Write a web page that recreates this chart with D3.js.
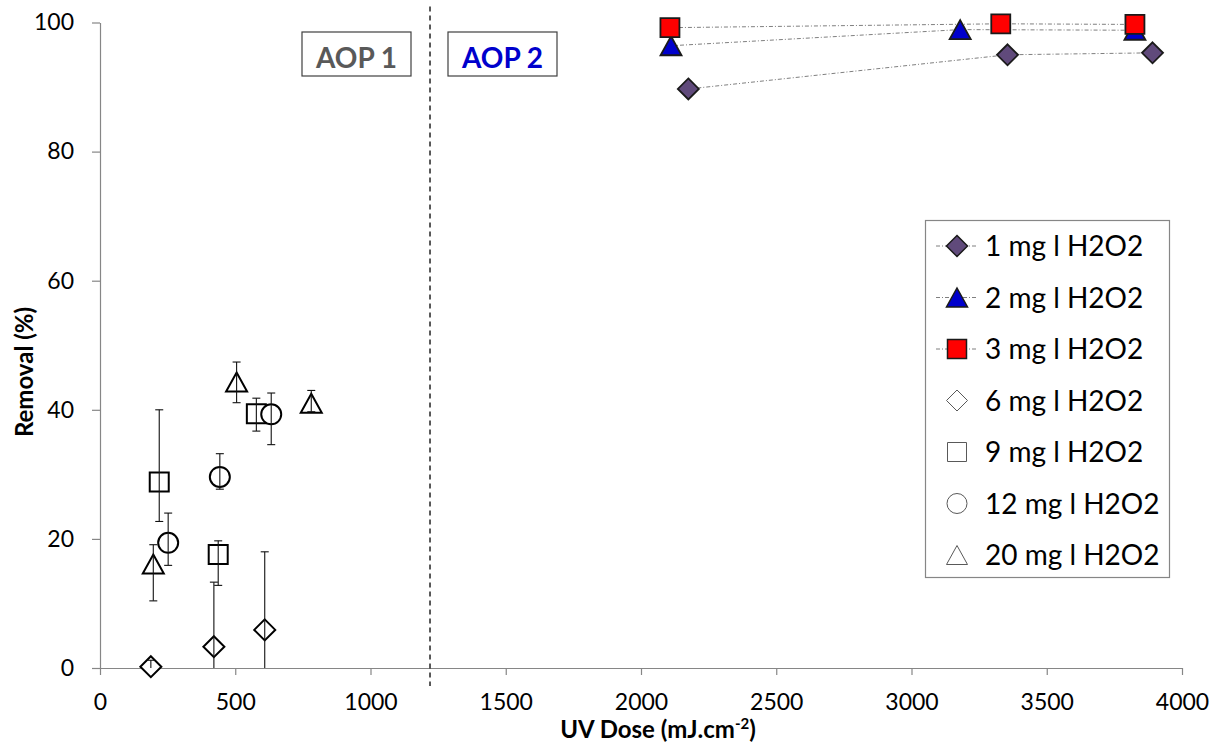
<!DOCTYPE html>
<html>
<head>
<meta charset="utf-8">
<script src="https://cdn.jsdelivr.net/npm/d3@7"></script>
<style>
  body { margin: 0; background: #fff; }
  text { font-family: Lato, "Open Sans", sans-serif; }
</style>
</head>
<body>
<svg id="chart" width="1219" height="749"></svg>
<script>
// data
var xTicks = [0, 500, 1000, 1500, 2000, 2500, 3000, 3500, 4000];
var yTicks = [0, 20, 40, 60, 80, 100];
var aopBoundary = 1220;

// AOP 2 series (filled markers, dash-dot lines)
var dose1 = [2175, 3355, 3891];
var rem1 = [89.7, 95.0, 95.3];
var dose2 = [2111, 3180, 3826];
var rem2 = [96.4, 98.9, 98.8];
var dose3 = [2107, 3330, 3826];
var rem3 = [99.2, 99.8, 99.7];

// AOP 1 series (open markers with error bars)
var dose6 = [188, 421, 609];
var rem6 = [0.2, 3.3, 5.9];
var errUp6 = [1.0, 10.0, 12.1];
var errDn6 = [1.0, 10.0, 12.1];
var dose9 = [219, 437, 578];
var rem9 = [28.8, 17.6, 39.4];
var errUp9 = [11.2, 2.1, 2.4];
var errDn9 = [6.1, 4.8, 2.7];
var dose12 = [252, 443, 633];
var rem12 = [19.4, 29.6, 39.3];
var errUp12 = [4.6, 3.6, 3.3];
var errDn12 = [3.5, 1.9, 4.7];
var dose20 = [197, 505, 781];
var rem20 = [16.1, 44.3, 41.0];
var errUp20 = [3.0, 3.1, 2.0];
var errDn20 = [5.7, 3.2, 1.3];

var seriesNames = ["1 mg l H2O2", "2 mg l H2O2", "3 mg l H2O2", "6 mg l H2O2",
                   "9 mg l H2O2", "12 mg l H2O2", "20 mg l H2O2"];

function zip(xs, ys, up, dn) {
    return xs.map(function(d, i) {
        return {x: d, y: ys[i], up: up ? up[i] : 0, dn: dn ? dn[i] : 0};
    });
}

var series = [
    {name: seriesNames[0], shape: "diamond", fill: "#604A7B", line: true, pts: zip(dose1, rem1)},
    {name: seriesNames[1], shape: "triangle", fill: "#0000CC", line: true, pts: zip(dose2, rem2)},
    {name: seriesNames[2], shape: "square", fill: "#FF0000", line: true, pts: zip(dose3, rem3)},
    {name: seriesNames[3], shape: "diamond", fill: "#fff", line: false, pts: zip(dose6, rem6, errUp6, errDn6)},
    {name: seriesNames[4], shape: "square", fill: "#fff", line: false, pts: zip(dose9, rem9, errUp9, errDn9)},
    {name: seriesNames[5], shape: "circle", fill: "#fff", line: false, pts: zip(dose12, rem12, errUp12, errDn12)},
    {name: seriesNames[6], shape: "triangle", fill: "#fff", line: false, pts: zip(dose20, rem20, errUp20, errDn20)}
];

var svg = d3.select("#chart");
var x = d3.scaleLinear().domain([0, 4000]).range([100, 1182]);
var y = d3.scaleLinear().domain([0, 100]).range([668, 22.5]);

// marker shapes, centred on their box
function marker(shape) {
    if (shape === "diamond") return "M0,-10.5L10.5,0L0,10.5L-10.5,0Z";
    if (shape === "square") return "M-9.5,-9.5H9.5V9.5H-9.5Z";
    if (shape === "triangle") return "M0,-9.5L10.5,9.5L-10.5,9.5Z";
    return "M10,0A10,10 0 1,1 -10,0A10,10 0 1,1 10,0Z";
}

// axes
var xAxis = svg.append("g")
    .attr("transform", "translate(0," + y(0) + ")")
    .call(d3.axisBottom(x).tickValues(xTicks).tickFormat(d3.format("d"))
        .tickSize(7).tickPadding(19).tickSizeOuter(0));
var yAxis = svg.append("g")
    .attr("transform", "translate(" + x(0) + ",0)")
    .call(d3.axisLeft(y).tickValues(yTicks).tickFormat(d3.format("d"))
        .tickSize(8).tickPadding(18).tickSizeOuter(0));
[xAxis, yAxis].forEach(function(a) {
    a.attr("font-size", 23);
    a.selectAll("path, line").attr("stroke", "#868686").attr("stroke-width", 1.2);
    a.selectAll("text").style("font-size", "23px").attr("fill", "#000");
});

svg.append("text")
    .attr("x", 658).attr("y", 738)
    .attr("text-anchor", "middle")
    .style("font-size", "24px").attr("font-weight", "bold")
    .text("UV Dose (mJ.cm")
    .append("tspan").attr("dy", -9).style("font-size", "15px").text("-2")
    .select(function() { return this.parentNode; })
    .append("tspan").attr("dy", 9).style("font-size", "24px").text(")");

svg.append("text")
    .attr("transform", "translate(33,372) rotate(-90)")
    .attr("text-anchor", "middle")
    .style("font-size", "24px").attr("font-weight", "bold")
    .text("Removal (%)");

// AOP boundary
svg.append("line")
    .attr("x1", x(aopBoundary)).attr("x2", x(aopBoundary))
    .attr("y1", y(100) - 16).attr("y2", y(0) + 18)
    .attr("stroke", "#000").attr("stroke-width", 1.3)
    .attr("stroke-dasharray", "5,4");

var aopBoxes = [
    {label: "AOP 1", x0: 302, x1: 411, color: "#595959"},
    {label: "AOP 2", x0: 448, x1: 557, color: "#0000CC"}
];
aopBoxes.forEach(function(b) {
    svg.append("rect")
        .attr("x", b.x0).attr("y", 32).attr("width", b.x1 - b.x0).attr("height", 44)
        .attr("fill", "#fff").attr("stroke", "#404040").attr("stroke-width", 1.2);
    svg.append("text")
        .attr("x", (b.x0 + b.x1) / 2).attr("y", 68)
        .attr("text-anchor", "middle")
        .style("font-size", "28px").attr("font-weight", "bold")
        .attr("fill", b.color)
        .text(b.label);
});

// lines for AOP 2 series
var lineGen = d3.line().x(function(d) { return x(d.x); }).y(function(d) { return y(d.y); });
series.filter(function(s) { return s.line; }).forEach(function(s) {
    svg.append("path")
        .attr("d", lineGen(s.pts.slice().sort(function(a, b) { return a.x - b.x; })))
        .attr("fill", "none").attr("stroke", "#7f7f7f").attr("stroke-width", 1)
        .attr("stroke-dasharray", "4,2,1,2");
});

// markers (2 mg before 3 mg so red squares sit on top)
series.forEach(function(s) {
    svg.selectAll(null).data(s.pts).enter().append("path")
        .attr("d", marker(s.shape))
        .attr("transform", function(d) { return "translate(" + x(d.x) + "," + y(d.y) + ")"; })
        .attr("fill", s.fill)
        .attr("stroke", s.line ? "#1a1a1a" : "#000")
        .attr("stroke-width", s.line ? 1.8 : 2);
});

// error bars clipped to the plot area
svg.append("clipPath").attr("id", "plotclip")
    .append("rect").attr("x", x(0)).attr("y", y(100)).attr("width", x(4000) - x(0)).attr("height", y(0) - y(100));
var errG = svg.append("g").attr("clip-path", "url(#plotclip)");
series.filter(function(s) { return !s.line; }).forEach(function(s) {
    var g = errG.selectAll(null).data(s.pts).enter().append("g")
        .attr("stroke", "#111").attr("stroke-width", 1.1);
    g.append("line")
        .attr("x1", function(d) { return x(d.x); }).attr("x2", function(d) { return x(d.x); })
        .attr("y1", function(d) { return y(d.y + d.up); })
        .attr("y2", function(d) { return y(d.y - d.dn); });
    g.append("line")
        .attr("x1", function(d) { return x(d.x) - 4; }).attr("x2", function(d) { return x(d.x) + 4; })
        .attr("y1", function(d) { return y(d.y + d.up); }).attr("y2", function(d) { return y(d.y + d.up); });
    g.append("line")
        .attr("x1", function(d) { return x(d.x) - 4; }).attr("x2", function(d) { return x(d.x) + 4; })
        .attr("y1", function(d) { return y(d.y - d.dn); }).attr("y2", function(d) { return y(d.y - d.dn); });
});

// legend
var legend = svg.append("g");
legend.append("rect")
    .attr("x", 925.5).attr("y", 220.5).attr("width", 244).attr("height", 357)
    .attr("fill", "#fff").attr("stroke", "#868686").attr("stroke-width", 1.2);
series.forEach(function(s, i) {
    var cy = 246 + i * 51.5;
    if (s.line) {
        legend.append("line")
            .attr("x1", 936).attr("x2", 978).attr("y1", cy).attr("y2", cy)
            .attr("stroke", "#7f7f7f").attr("stroke-width", 1)
            .attr("stroke-dasharray", "4,2,1,2");
    }
    legend.append("path")
        .attr("d", marker(s.shape))
        .attr("transform", "translate(957," + cy + ")")
        .attr("fill", s.fill)
        .attr("stroke", s.line ? "#1a1a1a" : "#595959")
        .attr("stroke-width", s.line ? 1.5 : 1);
    legend.append("text")
        .attr("x", 985).attr("y", cy + 10)
        .style("font-size", "28px").attr("fill", "#000")
        .text(s.name);
});
</script>
</body>
</html>
